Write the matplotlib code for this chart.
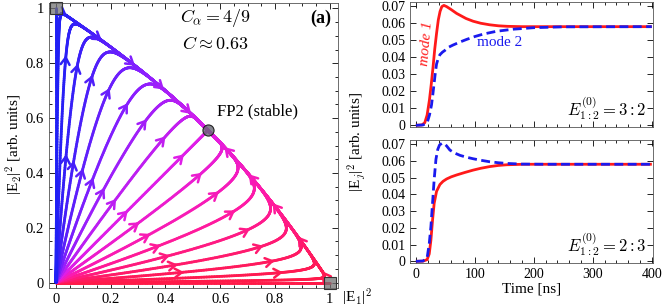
import numpy as np
import matplotlib
matplotlib.use('Agg')
import matplotlib.pyplot as plt
from matplotlib.collections import LineCollection
from matplotlib.colors import LinearSegmentedColormap
from matplotlib.patches import FancyArrowPatch
from matplotlib.ticker import MultipleLocator, FuncFormatter

plt.rcParams['font.family'] = ['Liberation Serif', 'DejaVu Serif']
plt.rcParams['mathtext.fontset'] = 'cm'

# ---------------- data ----------------
# Phase portrait (panel a): competition of two modes, FP2 at I = 1/(1+beta)
cross_coupling = 0.8
initial_field_angles_deg = [0, 5, 10, 15, 20, 25, 30, 35, 40, 45,
                            50, 55, 60, 65, 70, 75, 80, 85, 90]
saddle_x = [0.0, 1.0]
saddle_y = [1.0, 0.0]
fp2_x = [0.556]
fp2_y = [0.556]
traj_colors = ['#ff1a48', '#ff1aa6', '#e01ee8', '#8a1eff', '#2020f5']

# Time traces, top panel (E1:E2 = 3:2)
t_top_m1 = [0, 10, 15, 19, 23, 26, 29, 32, 35, 38, 41, 44, 47.5, 52, 60, 69,
            85, 97, 110, 125, 140, 155, 180, 210, 260, 400]
v_top_m1 = [0, 0.0002, 0.0015, 0.006, 0.015, 0.024, 0.034, 0.045, 0.054,
            0.062, 0.067, 0.0698, 0.0705, 0.0698, 0.0680, 0.0658, 0.0628,
            0.0612, 0.0600, 0.0591, 0.0585, 0.0582, 0.0580, 0.0580, 0.0580,
            0.0580]
t_top_m2 = [0, 12, 19, 23, 26.5, 29, 31, 33, 35, 38, 40.7, 45, 49, 56, 63, 75,
            86, 100, 115, 137, 165, 200, 250, 400]
v_top_m2 = [0, 0.0002, 0.0014, 0.006, 0.012, 0.019, 0.025, 0.031, 0.036,
            0.0395, 0.0415, 0.0430, 0.0440, 0.0460, 0.0472, 0.0490, 0.0505,
            0.0522, 0.0537, 0.0553, 0.0565, 0.0574, 0.0579, 0.0580]

# Time traces, bottom panel (E1:E2 = 2:3)
t_bot_m1 = [0, 12, 19, 22.6, 25.4, 28.2, 31, 35, 40.7, 46, 52, 60, 69, 83,
            97, 110, 125, 140, 154, 182, 220, 400]
v_bot_m1 = [0, 0.0001, 0.001, 0.0044, 0.0125, 0.0246, 0.0347, 0.0418, 0.0459,
            0.0478, 0.0492, 0.0505, 0.0516, 0.0531, 0.0545, 0.0556, 0.0566,
            0.0573, 0.0577, 0.0580, 0.0580, 0.0580]
t_bot_m2 = [0, 12, 19, 22.6, 25.4, 28.2, 31, 34, 37, 40, 44, 47.5, 52, 57.6,
            65, 75, 86, 97, 110, 125, 140, 154, 180, 220, 400]
v_bot_m2 = [0, 0.0002, 0.002, 0.0105, 0.0206, 0.0347, 0.049, 0.061, 0.0668,
            0.0695, 0.0705, 0.0705, 0.0690, 0.0665, 0.0648, 0.0633, 0.0622,
            0.0613, 0.0604, 0.0595, 0.0589, 0.0585, 0.0581, 0.0580, 0.0580]

# ---------------- figure ----------------
fig = plt.figure(figsize=(6.64, 3.07), dpi=100)
axL = fig.add_axes([49/664, 1-288/307, 289/664, 285/307])
axT = fig.add_axes([410/664, 1-127/307, 243/664, 125/307])
axB = fig.add_axes([410/664, 1-263/307, 243/664, 123/307])

# ---- phase portrait ----
cmap = LinearSegmentedColormap.from_list('traj', traj_colors)
beta = cross_coupling
phi = np.radians(np.array(initial_field_angles_deg, dtype=float))
s0 = 2e-3
I1 = s0 * np.cos(phi) ** 2
I2 = s0 * np.sin(phi) ** 2
I2[0] = 0.0
I1[-1] = 0.0


def rhs(a, b):
    return a * (1 - a - beta * b), b * (1 - b - beta * a)


dt = 0.01
nsteps = 6000
X = np.empty((nsteps + 1, len(phi)))
Y = np.empty_like(X)
X[0], Y[0] = I1, I2
a, b = I1.copy(), I2.copy()
for i in range(nsteps):
    k1a, k1b = rhs(a, b)
    k2a, k2b = rhs(a + 0.5 * dt * k1a, b + 0.5 * dt * k1b)
    k3a, k3b = rhs(a + 0.5 * dt * k2a, b + 0.5 * dt * k2b)
    k4a, k4b = rhs(a + dt * k3a, b + dt * k3b)
    a = a + dt / 6 * (k1a + 2 * k2a + 2 * k3a + k4a)
    b = b + dt / 6 * (k1b + 2 * k2b + 2 * k3b + k4b)
    X[i + 1], Y[i + 1] = a, b


def angle_frac(x, y):
    return np.arctan2(y, x) / (np.pi / 2)


tgrid = np.arange(nsteps + 1) * dt
sub = 4
for k in range(len(phi)):
    x = X[::sub, k]
    y = Y[::sub, k]
    pts = np.column_stack([x, y]).reshape(-1, 1, 2)
    segs = np.concatenate([pts[:-1], pts[1:]], axis=1)
    ang = angle_frac(0.5 * (x[:-1] + x[1:]), 0.5 * (y[:-1] + y[1:]))
    lc = LineCollection(segs, colors=cmap(ang), linewidths=2.0,
                        capstyle='round', joinstyle='round', zorder=2)
    axL.add_collection(lc)

# boundary (separatrix) points from the two near-axis trajectories
kb = [1, len(phi) - 2]
bx = np.concatenate([X[::5, k] for k in kb])
by = np.concatenate([Y[::5, k] for k in kb])
keep = (bx > 0.03) & (by > 0.03)
bx, by = bx[keep], by[keep]


def add_arrow(k, i):
    px, py = X[i, k], Y[i, k]
    dx = X[i + 1, k] - X[i - 1, k]
    dy = Y[i + 1, k] - Y[i - 1, k]
    n = np.hypot(dx, dy)
    if n == 0:
        return
    dx, dy = dx / n, dy / n
    col = cmap(angle_frac(px, py))
    arr = FancyArrowPatch((px - 0.012 * dx, py - 0.012 * dy), (px, py),
                          arrowstyle='->,head_length=0.5,head_width=0.32',
                          color=col, lw=1.8, shrinkA=0, shrinkB=0,
                          mutation_scale=10, zorder=3)
    axL.add_patch(arr)


k45 = initial_field_angles_deg.index(45)
r45 = np.hypot(X[:, k45], Y[:, k45])
t_first = tgrid[np.argmax(r45 >= 0.37)]
spacing = 1.78
arrow_times = t_first + spacing * np.arange(-3, 30)
placed_boundary = []
for k in range(1, len(phi) - 1):
    on_boundary = k in kb
    for ta in arrow_times:
        i = int(round(ta / dt))
        if i < 2 or i > nsteps - 2:
            continue
        px, py = X[i, k], Y[i, k]
        if np.hypot(px, py) < 0.15 or px < 0.03 or py < 0.03:
            continue
        if np.hypot(px - fp2_x[0], py - fp2_y[0]) < 0.06:
            continue
        if not on_boundary:
            if np.min(np.hypot(bx - px, by - py)) < 0.03:
                continue
        else:
            if any(np.hypot(px - qx, py - qy) < 0.12 for qx, qy in placed_boundary):
                continue
            placed_boundary.append((px, py))
        add_arrow(k, i)

axL.plot(saddle_x, saddle_y, 's', ms=8, mfc=(0.45, 0.45, 0.45, 0.75),
         mec='#333333', mew=0.8, zorder=5, clip_on=False)
axL.plot(fp2_x, fp2_y, 'o', ms=8, mfc=(0.4, 0.4, 0.45, 0.8),
         mec='#222222', mew=0.8, zorder=5)

axL.set_xlim(-0.025, 1.03)
axL.set_ylim(-0.02, 1.02)
axL.xaxis.set_major_locator(MultipleLocator(0.2))
axL.yaxis.set_major_locator(MultipleLocator(0.2))
axL.xaxis.set_minor_locator(MultipleLocator(0.05))
axL.yaxis.set_minor_locator(MultipleLocator(0.05))
fmt = FuncFormatter(lambda v, p: '%g' % round(v, 3))
axL.xaxis.set_major_formatter(fmt)
axL.yaxis.set_major_formatter(fmt)

axL.text(0.575, 0.985, r'$C_\alpha = 4/9$', transform=axL.transAxes,
         ha='center', va='top', fontsize=13)
axL.text(0.575, 0.885, r'$C \approx 0.63$', transform=axL.transAxes,
         ha='center', va='top', fontsize=13)
axL.text(0.975, 0.975, '(a)', transform=axL.transAxes, ha='right', va='top',
         fontsize=13, fontweight='bold')
axL.text(0.588, 0.625, 'FP2 (stable)', ha='left', va='center', fontsize=12)
fig.text(357/664, 1-297/307, r'|E$_1$|$^2$', ha='center', va='center', fontsize=11)
fig.text(14/664, 1-145/307, r'|E$_2$|$^2$ [arb. units]', ha='center',
         va='center', rotation=90, fontsize=11)

# ---- time traces ----
for ax, tm1, vm1, tm2, vm2 in [(axT, t_top_m1, v_top_m1, t_top_m2, v_top_m2),
                               (axB, t_bot_m1, v_bot_m1, t_bot_m2, v_bot_m2)]:
    ax.plot(tm1, vm1, color='#ff1a1a', lw=2.0, solid_capstyle='butt', zorder=2)
    ax.plot(tm2, vm2, color='#1a1aee', lw=2.0, ls=(0, (3.2, 1.6)), zorder=3)
    ax.set_xlim(-10, 402)
    ax.set_ylim(-0.001, 0.0725)
    ax.xaxis.set_major_locator(MultipleLocator(100))
    ax.xaxis.set_minor_locator(MultipleLocator(20))
    ax.yaxis.set_major_locator(MultipleLocator(0.01))
    ax.yaxis.set_major_formatter(FuncFormatter(lambda v, p: '%g' % round(v, 4)))

axT.tick_params(labelbottom=False)
axT.text(0.975, 0.04, r'$E^{(0)}_{1:2} = 3:2$', transform=axT.transAxes,
         ha='right', va='bottom', fontsize=12)
axB.text(0.975, 0.04, r'$E^{(0)}_{1:2} = 2:3$', transform=axB.transAxes,
         ha='right', va='bottom', fontsize=12)
axT.text(18, 0.048, 'mode 1', color='#ff1a1a', rotation=85, ha='center',
         va='center', fontsize=11, style='italic')
axT.text(142, 0.0485, 'mode 2', color='#1a1aee', ha='center', va='center',
         fontsize=11)
axB.set_xlabel('Time [ns]', fontsize=11, labelpad=1)
fig.text(357/664, 1-142/307, r'|E$_j$|$^2$ [arb. units]', ha='center',
         va='center', rotation=90, fontsize=11)

for ax in (axL, axT, axB):
    ax.tick_params(which='both', direction='in', top=True, right=True,
                   labelsize=10.5 if ax is axL else 10, width=0.6)
    ax.tick_params(which='major', length=4)
    ax.tick_params(which='minor', length=2)
    for s in ax.spines.values():
        s.set_linewidth(0.6)
        s.set_color('#555555')

fig.savefig('out.png', dpi=100)
